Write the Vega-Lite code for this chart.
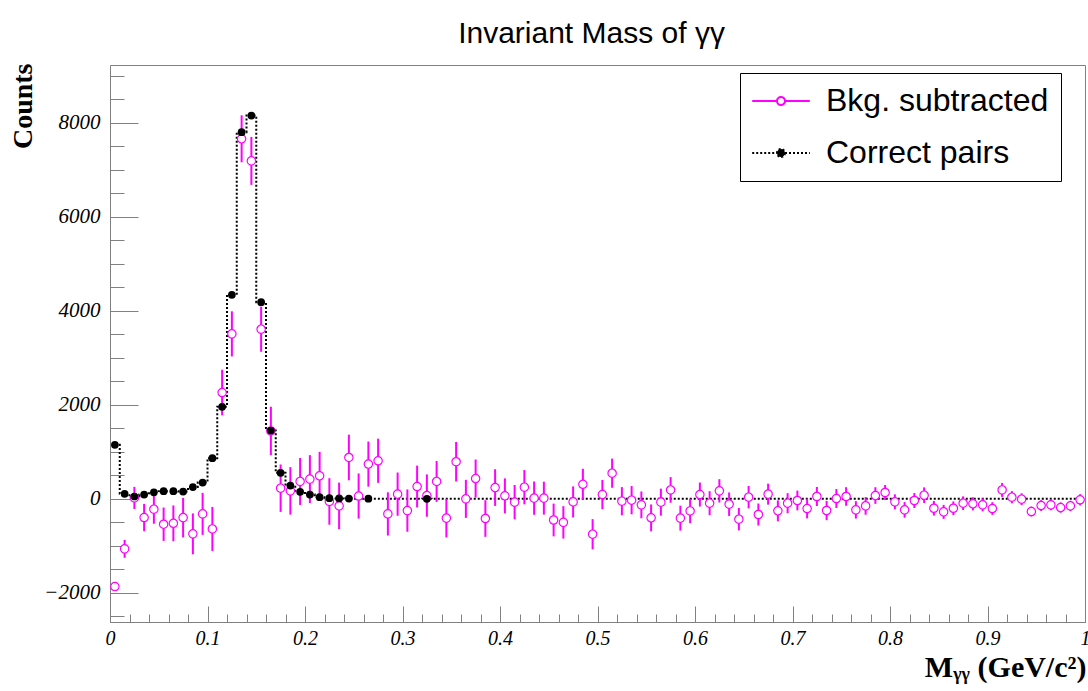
{
  "$schema": "https://vega.github.io/schema/vega-lite/v6.json",
  "width": 975,
  "height": 557,
  "autosize": {"type": "none"},
  "padding": {"left": 110, "top": 65, "right": 3, "bottom": 69},
  "background": "white",
  "title": {"text": "Invariant Mass of γγ", "font": "Liberation Sans", "fontSize": 30, "fontWeight": "normal", "color": "black", "anchor": "middle", "frame": "group", "baseline": "alphabetic", "offset": 23, "dx": -6, "dy": 33},
  "config": {"view": {"stroke": "#808080", "strokeWidth": 1}, "axis": {"grid": false, "domain": false}},
  "data": {"values": [
    {"m": 0.005, "bkg": -1866, "err": 40, "cp": 1150},
    {"m": 0.015, "bkg": -1064, "err": 190, "cp": 106},
    {"m": 0.025, "bkg": 20, "err": 235, "cp": 50},
    {"m": 0.035, "bkg": -397, "err": 290, "cp": 90},
    {"m": 0.045, "bkg": -220, "err": 310, "cp": 140},
    {"m": 0.055, "bkg": -540, "err": 355, "cp": 163},
    {"m": 0.065, "bkg": -520, "err": 380, "cp": 163},
    {"m": 0.075, "bkg": -400, "err": 420, "cp": 155},
    {"m": 0.085, "bkg": -745, "err": 435, "cp": 250},
    {"m": 0.095, "bkg": -320, "err": 447, "cp": 347},
    {"m": 0.105, "bkg": -640, "err": 468, "cp": 865},
    {"m": 0.115, "bkg": 2262, "err": 485, "cp": 1957},
    {"m": 0.125, "bkg": 3510, "err": 480, "cp": 4340},
    {"m": 0.135, "bkg": 7660, "err": 500, "cp": 7800},
    {"m": 0.145, "bkg": 7190, "err": 510, "cp": 8155},
    {"m": 0.155, "bkg": 3610, "err": 480, "cp": 4185},
    {"m": 0.165, "bkg": 1445, "err": 515, "cp": 1453},
    {"m": 0.175, "bkg": 227, "err": 505, "cp": 555},
    {"m": 0.185, "bkg": 170, "err": 505, "cp": 283},
    {"m": 0.195, "bkg": 370, "err": 500, "cp": 150},
    {"m": 0.205, "bkg": 420, "err": 510, "cp": 92},
    {"m": 0.215, "bkg": 490, "err": 510, "cp": 35},
    {"m": 0.225, "bkg": -55, "err": 495, "cp": 14},
    {"m": 0.235, "bkg": -150, "err": 495, "cp": 10},
    {"m": 0.245, "bkg": 880, "err": 485, "cp": 5},
    {"m": 0.255, "bkg": 60, "err": 480, "cp": 0},
    {"m": 0.265, "bkg": 740, "err": 480, "cp": 3},
    {"m": 0.275, "bkg": 810, "err": 470, "cp": 0},
    {"m": 0.285, "bkg": -320, "err": 460, "cp": 0},
    {"m": 0.295, "bkg": 100, "err": 460, "cp": 0},
    {"m": 0.305, "bkg": -250, "err": 450, "cp": 0},
    {"m": 0.315, "bkg": 262, "err": 445, "cp": 0},
    {"m": 0.325, "bkg": 70, "err": 450, "cp": 1},
    {"m": 0.335, "bkg": 370, "err": 435, "cp": 0},
    {"m": 0.345, "bkg": -410, "err": 410, "cp": 0},
    {"m": 0.355, "bkg": 790, "err": 420, "cp": 0},
    {"m": 0.365, "bkg": 0, "err": 405, "cp": 0},
    {"m": 0.375, "bkg": 432, "err": 405, "cp": 0},
    {"m": 0.385, "bkg": -418, "err": 390, "cp": 0},
    {"m": 0.395, "bkg": 240, "err": 390, "cp": 0},
    {"m": 0.405, "bkg": 64, "err": 372, "cp": 0},
    {"m": 0.415, "bkg": -70, "err": 365, "cp": 0},
    {"m": 0.425, "bkg": 248, "err": 365, "cp": 0},
    {"m": 0.435, "bkg": 15, "err": 355, "cp": 0},
    {"m": 0.445, "bkg": 15, "err": 350, "cp": 0},
    {"m": 0.455, "bkg": -450, "err": 348, "cp": 0},
    {"m": 0.465, "bkg": -500, "err": 345, "cp": 0},
    {"m": 0.475, "bkg": -65, "err": 330, "cp": 0},
    {"m": 0.485, "bkg": 310, "err": 330, "cp": 0},
    {"m": 0.495, "bkg": -752, "err": 320, "cp": 0},
    {"m": 0.505, "bkg": 92, "err": 310, "cp": 0},
    {"m": 0.515, "bkg": 546, "err": 310, "cp": 0},
    {"m": 0.525, "bkg": -50, "err": 300, "cp": 0},
    {"m": 0.535, "bkg": -28, "err": 300, "cp": 0},
    {"m": 0.545, "bkg": -128, "err": 285, "cp": 0},
    {"m": 0.555, "bkg": -404, "err": 285, "cp": 0},
    {"m": 0.565, "bkg": -70, "err": 287, "cp": 0},
    {"m": 0.575, "bkg": 190, "err": 273, "cp": 0},
    {"m": 0.585, "bkg": -410, "err": 265, "cp": 0},
    {"m": 0.595, "bkg": -257, "err": 260, "cp": 0},
    {"m": 0.605, "bkg": 92, "err": 255, "cp": 0},
    {"m": 0.615, "bkg": -92, "err": 255, "cp": 0},
    {"m": 0.625, "bkg": 170, "err": 248, "cp": 0},
    {"m": 0.635, "bkg": -114, "err": 250, "cp": 0},
    {"m": 0.645, "bkg": -433, "err": 238, "cp": 0},
    {"m": 0.655, "bkg": 35, "err": 238, "cp": 0},
    {"m": 0.665, "bkg": -333, "err": 234, "cp": 0},
    {"m": 0.675, "bkg": 100, "err": 223, "cp": 0},
    {"m": 0.685, "bkg": -255, "err": 223, "cp": 0},
    {"m": 0.695, "bkg": -92, "err": 213, "cp": 0},
    {"m": 0.705, "bkg": -35, "err": 210, "cp": 0},
    {"m": 0.715, "bkg": -206, "err": 210, "cp": 0},
    {"m": 0.725, "bkg": 50, "err": 202, "cp": 0},
    {"m": 0.735, "bkg": -248, "err": 205, "cp": 0},
    {"m": 0.745, "bkg": 7, "err": 202, "cp": 0},
    {"m": 0.755, "bkg": 50, "err": 198, "cp": 0},
    {"m": 0.765, "bkg": -234, "err": 185, "cp": 0},
    {"m": 0.775, "bkg": -150, "err": 188, "cp": 0},
    {"m": 0.785, "bkg": 70, "err": 177, "cp": 0},
    {"m": 0.795, "bkg": 135, "err": 160, "cp": 0},
    {"m": 0.805, "bkg": -64, "err": 160, "cp": 0},
    {"m": 0.815, "bkg": -234, "err": 166, "cp": 0},
    {"m": 0.825, "bkg": -35, "err": 160, "cp": 0},
    {"m": 0.835, "bkg": 78, "err": 166, "cp": 0},
    {"m": 0.845, "bkg": -200, "err": 155, "cp": 0},
    {"m": 0.855, "bkg": -277, "err": 149, "cp": 0},
    {"m": 0.865, "bkg": -200, "err": 145, "cp": 0},
    {"m": 0.875, "bkg": -92, "err": 145, "cp": 0},
    {"m": 0.885, "bkg": -106, "err": 140, "cp": 0},
    {"m": 0.895, "bkg": -128, "err": 138, "cp": 0},
    {"m": 0.905, "bkg": -206, "err": 135, "cp": 0},
    {"m": 0.915, "bkg": 190, "err": 149, "cp": 0},
    {"m": 0.925, "bkg": 35, "err": 130, "cp": 0},
    {"m": 0.935, "bkg": -7, "err": 125, "cp": 0},
    {"m": 0.945, "bkg": -270, "err": 106, "cp": 0},
    {"m": 0.955, "bkg": -142, "err": 115, "cp": 0},
    {"m": 0.965, "bkg": -128, "err": 115, "cp": 0},
    {"m": 0.975, "bkg": -185, "err": 110, "cp": 0},
    {"m": 0.985, "bkg": -150, "err": 110, "cp": 0},
    {"m": 0.995, "bkg": -20, "err": 120, "cp": 0}
  ]},
  "resolve": {"axis": {"x": "independent", "y": "independent"}},
  "layer": [
    {
      "mark": {"type": "line", "interpolate": "step", "strokeDash": [2, 2], "strokeWidth": 2},
      "encoding": {
        "x": {"field": "m", "type": "quantitative", "scale": {"domain": [0, 1], "nice": false, "zero": false},
          "axis": {"orient": "bottom", "values": [0, 0.1, 0.2, 0.3, 0.4, 0.5, 0.6, 0.7, 0.8, 0.9, 1], "format": ".1~f", "ticks": false, "tickSize": 0, "labelPadding": 6, "labelFont": "Liberation Serif", "labelFontStyle": "italic", "labelFontSize": 20, "labelColor": "black", "labelFlush": false, "labelOverlap": false,
            "title": "Mᵧᵧ (GeV/c²)", "titleFont": "Liberation Serif", "titleFontWeight": "bold", "titleFontSize": 30, "titleColor": "black", "titleAnchor": "end", "titleAlign": "right", "titleBaseline": "alphabetic", "titleX": 976, "titleY": 54}},
        "y": {"field": "cp", "type": "quantitative", "scale": {"domain": [-2620, 9230], "nice": false, "zero": false},
          "axis": {"orient": "left", "values": [-2000, 0, 2000, 4000, 6000, 8000], "format": "d", "ticks": false, "tickSize": 0, "labelPadding": 10, "labelFont": "Liberation Serif", "labelFontStyle": "italic", "labelFontSize": 21, "labelColor": "black", "labelOverlap": false,
            "title": "Counts", "titleFont": "Liberation Serif", "titleFontWeight": "bold", "titleFontSize": 28, "titleColor": "black", "titleAngle": -90, "titleAlign": "right", "titleBaseline": "middle", "titleX": -87, "titleY": -2}},
        "stroke": {"datum": "Correct pairs", "type": "nominal",
          "scale": {"domain": ["Bkg. subtracted", "Correct pairs"], "range": ["#ff00ff", "#000000"]},
          "legend": {"orient": "none", "legendX": 630, "legendY": 8, "title": null,
            "symbolType": "M-1.8,0L-0.25,0M0.25,0L1.8,0M0.25,0A0.25,0.25 0 1,1 -0.25,0A0.25,0.25 0 1,1 0.25,0Z",
            "symbolSize": 1024, "symbolStrokeWidth": 2, "labelFont": "Liberation Sans", "labelFontSize": 32, "labelColor": "black", "labelLimit": 500,
            "labelOffset": 28, "symbolOffset": 12, "clipHeight": 32, "rowPadding": 20, "padding": 12, "fillColor": "white", "strokeColor": "black",
            "encode": {"symbols": {"update": {
              "fill": {"signal": "datum.value === 'Correct pairs' ? '#000000' : '#ffffff'"},
              "strokeDash": {"signal": "datum.value === 'Correct pairs' ? [2,2] : [1,0]"},
              "shape": {"value": "M-1.8,0L-0.25,0M0.25,0L1.8,0M0.25,0A0.25,0.25 0 1,1 -0.25,0A0.25,0.25 0 1,1 0.25,0Z"},
              "size": {"value": 1024},
              "strokeWidth": {"value": 2},
              "opacity": {"value": 1}
            }}}}}
      }
    },
    {
      "mark": {"type": "errorbar", "thickness": 2, "color": "#ff00ff"},
      "encoding": {
        "x": {"field": "m", "type": "quantitative",
          "axis": {"orient": "bottom", "values": [0, 0.1, 0.2, 0.3, 0.4, 0.5, 0.6, 0.7, 0.8, 0.9, 1], "offset": -16, "tickSize": 16, "labels": false, "domain": false, "tickColor": "#808080", "title": null}},
        "y": {"field": "bkg", "type": "quantitative",
          "axis": {"orient": "left", "values": [-2000, 0, 2000, 4000, 6000, 8000], "offset": -28, "tickSize": 28, "labels": false, "domain": false, "tickColor": "#808080", "title": null}},
        "yError": {"field": "err"}
      }
    },
    {
      "mark": {"type": "point", "filled": true, "fill": "#ffffff", "strokeWidth": 1.2, "size": 70, "opacity": 1},
      "encoding": {
        "x": {"field": "m", "type": "quantitative",
          "axis": {"orient": "bottom", "values": [0, 0.02, 0.04, 0.06, 0.08, 0.1, 0.12, 0.14, 0.16, 0.18, 0.2, 0.22, 0.24, 0.26, 0.28, 0.3, 0.32, 0.34, 0.36, 0.38, 0.4, 0.42, 0.44, 0.46, 0.48, 0.5, 0.52, 0.54, 0.56, 0.58, 0.6, 0.62, 0.64, 0.66, 0.68, 0.7, 0.72, 0.74, 0.76, 0.78, 0.8, 0.82, 0.84, 0.86, 0.88, 0.9, 0.92, 0.94, 0.96, 0.98, 1], "offset": -8, "tickSize": 8, "labels": false, "domain": false, "tickColor": "#808080", "title": null}},
        "y": {"field": "bkg", "type": "quantitative",
          "axis": {"orient": "left", "values": [-2500, -2000, -1500, -1000, -500, 0, 500, 1000, 1500, 2000, 2500, 3000, 3500, 4000, 4500, 5000, 5500, 6000, 6500, 7000, 7500, 8000, 8500, 9000], "offset": -14, "tickSize": 14, "labels": false, "domain": false, "tickColor": "#808080", "title": null}},
        "stroke": {"datum": "Bkg. subtracted", "type": "nominal"}
      }
    },
    {
      "transform": [{"filter": "datum.cp > 0"}],
      "mark": {"type": "point", "filled": true, "color": "#000000", "size": 60, "opacity": 1},
      "encoding": {
        "x": {"field": "m", "type": "quantitative", "axis": null},
        "y": {"field": "cp", "type": "quantitative", "axis": null}
      }
    }
  ]
}
